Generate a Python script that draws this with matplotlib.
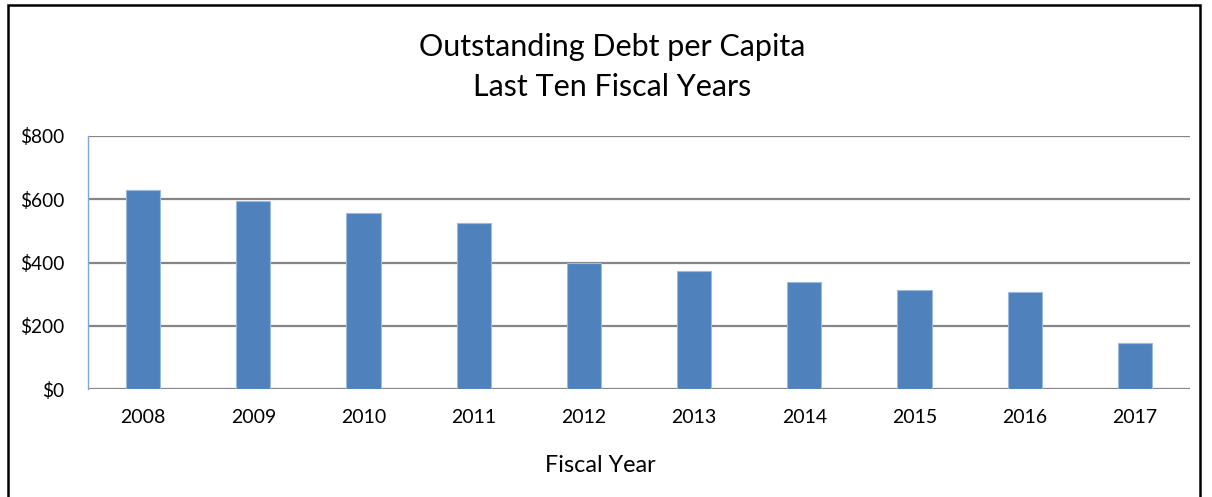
import numpy as np
import matplotlib.pyplot as plt
from matplotlib.patches import Rectangle

# data
years = ["2008", "2009", "2010", "2011", "2012", "2013", "2014", "2015", "2016", "2017"]
debt_per_capita = [629, 595, 556, 524, 400, 373, 338, 312, 306, 146]
yticks = [0, 200, 400, 600, 800]

plt.rcParams['font.family'] = ['Lato', 'DejaVu Sans']

fig = plt.figure(figsize=(12.12, 4.97), dpi=100)
ax = fig.add_axes([88 / 1212, 107.7 / 497, 1102 / 1212, 253.6 / 497])

x = np.arange(len(years))
ax.bar(x, debt_per_capita, width=0.31, color="#4F81BD", edgecolor="#9DB9DD",
       linewidth=0.8, zorder=3)

ax.set_xlim(-0.5, len(years) - 0.5)
ax.set_ylim(0, 800)
ax.set_yticks(yticks)
ax.set_yticklabels(["$" + str(v) for v in yticks], fontsize=13.8)
ax.set_xticks(x)
ax.set_xticklabels(years, fontsize=14)
ax.tick_params(axis='both', length=0)
ax.tick_params(axis='x', pad=14)
ax.tick_params(axis='y', pad=17)

ax.grid(visible=True, which='major', axis='y', color='#868686', linewidth=1.6, zorder=0)
for side in ["top", "right", "bottom"]:
    ax.spines[side].set_visible(False)
ax.spines["left"].set_color("#7FA6D6")
ax.spines["left"].set_linewidth(1.0)

fig.text(612 / 1212, 1 - 47 / 497, "Outstanding Debt per Capita", ha='center', va='center', fontsize=22)
fig.text(612 / 1212, 1 - 87 / 497, "Last Ten Fiscal Years", ha='center', va='center', fontsize=22)
fig.text(600 / 1212, 1 - 466 / 497, "Fiscal Year", ha='center', va='center', fontsize=16.8)

# outer chart border
fig.patches.append(Rectangle((8 / 1212, -0.01), 1192 / 1212, 1.0, transform=fig.transFigure,
                             fill=False, edgecolor='black', linewidth=1.8))

fig.savefig("out.png", dpi=100)
plt.close(fig)
